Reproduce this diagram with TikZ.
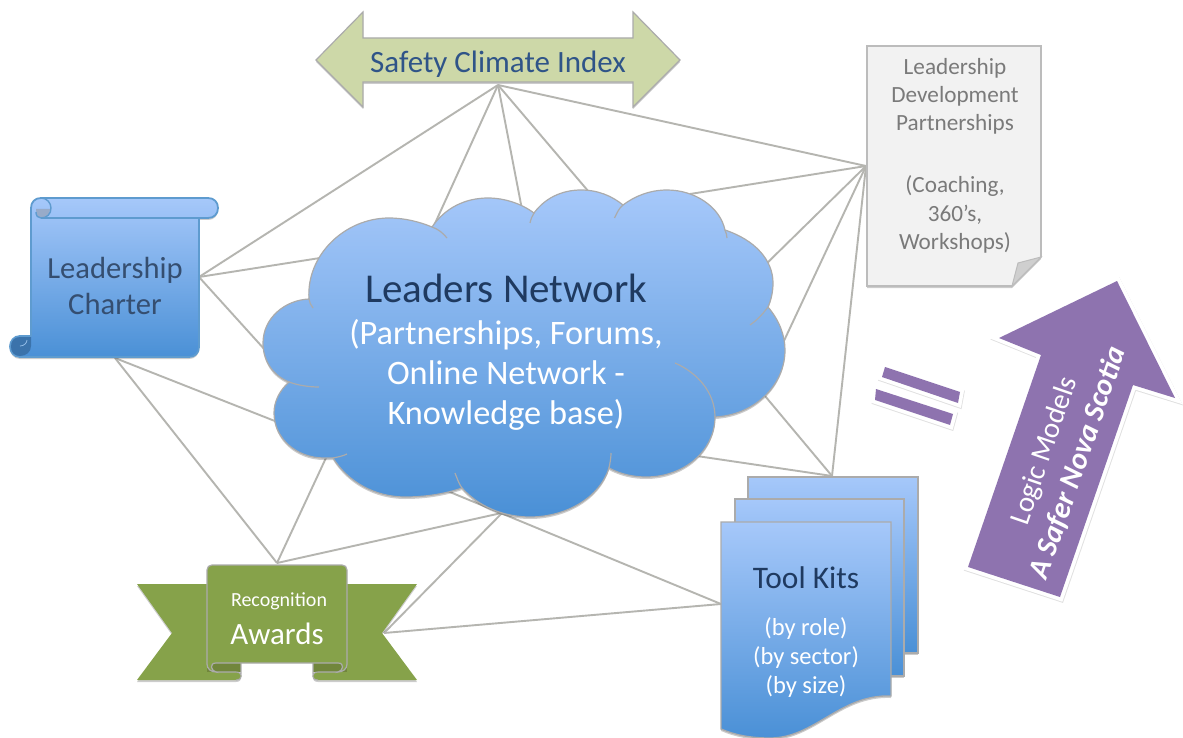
\documentclass[tikz,border=0pt]{standalone}
\usepackage{fontspec}
\setmainfont{Carlito}
\usetikzlibrary{shadows}
\definecolor{gradtop}{HTML}{A6C8FA}
\definecolor{gradbot}{HTML}{4A90D6}
\definecolor{linkgray}{HTML}{B5B5B0}
\definecolor{edgegray}{HTML}{ABABAB}
\definecolor{darktext}{HTML}{1F3A60}
\definecolor{bluetext}{HTML}{2F5488}
\definecolor{olive}{HTML}{86A24A}
\definecolor{olivedark}{HTML}{71863C}
\definecolor{sage}{HTML}{CDD8A8}
\definecolor{purplefill}{HTML}{8E73AF}
\definecolor{scrolledge}{HTML}{5E9BCF}
\tikzset{
  link/.style={draw=linkgray,line width=1.9pt},
  softshadow/.style={drop shadow={shadow xshift=0pt,shadow yshift=-2pt,opacity=.2,fill=black}},
  bluegrad/.style={top color=gradtop,bottom color=gradbot},
  sheet/.style={bluegrad,draw=edgegray,line width=1.3pt,softshadow},
  whitepurple/.style={fill=purplefill,line join=miter,
     preaction={draw=black,draw opacity=.12,line width=7.5pt,line join=miter,transform canvas={shift={(.6pt,-1.2pt)}}},
     preaction={draw=white,line width=7.5pt,line join=miter}},
  label/.style={inner sep=0pt,align=center},
}
\newcommand{\fs}[2]{\fontsize{#1}{#2}\selectfont}
\begin{document}
\begin{tikzpicture}[x=1pt,y=-1pt]
\useasboundingbox (0,0) rectangle (1183,738);
\fill[white] (0,0) rectangle (1183,738);
% connection points
\coordinate (sci) at (498,85);
\coordinate (ldp) at (866,166);
\coordinate (chartR) at (199,277);
\coordinate (chartB) at (115,358);
\coordinate (awT) at (277,563);
\coordinate (awR) at (384,633);
\coordinate (kitL) at (721,604);
\coordinate (kitT) at (832,476);
\coordinate (cA) at (432,230);
\coordinate (cB) at (525,225);
\coordinate (cC) at (600,205);
\coordinate (cD) at (690,194);
\coordinate (cE) at (760,270);
\coordinate (cF) at (775,360);
\coordinate (cG) at (690,455);
\coordinate (cH) at (760,390);
\coordinate (cI) at (320,258);
\coordinate (cJ) at (275,361);
\coordinate (cK) at (285,425);
\coordinate (cL) at (332,445);
\coordinate (cM) at (515,510);
\coordinate (cN) at (505,510);
\coordinate (cO) at (445,490);
% connectors
\draw[link] (sci) -- (chartR);
\draw[link] (sci) -- (cA);
\draw[link] (sci) -- (cB);
\draw[link] (sci) -- (cC);
\draw[link] (sci) -- (ldp);
\draw[link] (ldp) -- (cD);
\draw[link] (ldp) -- (cE);
\draw[link] (ldp) -- (cF);
\draw[link] (ldp) -- (kitT);
\draw[link] (kitT) -- (cG);
\draw[link] (kitT) -- (cH);
\draw[link] (chartR) -- (cI);
\draw[link] (chartR) -- (cJ);
\draw[link] (chartB) -- (cK);
\draw[link] (chartB) -- (awT);
\draw[link] (awT) -- (cL);
\draw[link] (awT) -- (cM);
\draw[link] (awR) -- (cN);
\draw[link] (awR) -- (kitL);
\draw[link] (kitL) -- (cO);
% safety climate index arrow
\draw[fill=sage,draw=edgegray,line width=1.2pt,line join=miter,softshadow]
  (316,60) -- (363,12) -- (363,38) -- (633,38) -- (633,12) -- (680,60) -- (633,107) -- (633,82) -- (363,82) -- (363,107) -- cycle;
\node[label,text=bluetext,font=\fs{31}{36}] (sciT) at (498,64) {Safety Climate Index};
% leadership development document
\draw[fill=black!5,draw=edgegray!80,line width=1.7pt,softshadow]
  (867,46) -- (1041,46) -- (1041,257) -- (1012,286) -- (867,286) -- cycle;
\draw[fill=black!19,draw=edgegray!80,line width=1pt] (1041,257) -- (1018,263) -- (1012,286) -- cycle;
\node[label,text=black!52,font=\fs{23.2}{28.2}] (ldpT) at (955,155.5) {Leadership\\Development\\Partnerships\\[6pt]\\(Coaching,\\360’s,\\Workshops)};
% scroll
\draw[bluegrad,draw=scrolledge,line width=1.8pt,softshadow,line join=round]
  (41,198) -- (208,198) .. controls (214,198) and (218,202) .. (218,208) .. controls (218,214) and (214,218) .. (208,218)
  -- (199,218) -- (199,347) .. controls (199,353) and (195,357) .. (189,357) -- (20,357)
  .. controls (14,357) and (10,352) .. (10,346.5) .. controls (10,341) and (14,336) .. (20,336) -- (31,336) -- (31,208)
  .. controls (31,202) and (35,198) .. (41,198) -- cycle;
\fill[gradtop!60!gray] (36,209) -- (50,209) .. controls (50,214) and (47,218) .. (42,218) .. controls (38,218) and (36,214) .. (36,209) -- cycle;
\draw[scrolledge,line width=1.4pt] (41,198) .. controls (47,198) and (51,203) .. (51,208) .. controls (51,214) and (47,218) .. (41,218) .. controls (38,218) and (36,216) .. (36,212);
\draw[scrolledge,line width=1.6pt] (41,218) -- (199,218);
\fill[gradbot!80!black] (20,337) -- (31,337) -- (31,346) .. controls (31,352) and (26,356) .. (20,356) .. controls (14,356) and (11,352) .. (11,346.5) .. controls (11,341) and (14,337) .. (20,337) -- cycle;
\draw[gradbot!60!white,line width=.8pt] (20,346) .. controls (24,346) and (27,343) .. (27,340);
\node[label,text=darktext!90!white,font=\fs{30.6}{36}] (charterT) at (115,286) {Leadership\\Charter};
% cloud
\draw[bluegrad,draw=edgegray,line width=1.2pt,softshadow]
  (289,382) .. controls (272,375) and (263,360) .. (263,343) .. controls (263,318) and (285,300) .. (309,299)
  .. controls (306,255) and (345,218) .. (389,218) .. controls (405,218) and (420,222) .. (432,227)
  .. controls (445,208) and (465,198) .. (488,198) .. controls (505,198) and (522,204) .. (534,213)
  .. controls (545,198) and (562,190) .. (581,190) .. controls (598,190) and (612,196) .. (623,205)
  .. controls (635,196) and (650,190) .. (667,190) .. controls (695,190) and (720,207) .. (725,230)
  .. controls (755,240) and (773,260) .. (773,283) .. controls (773,292) and (771,300) .. (768,307)
  .. controls (779,320) and (785,335) .. (785,350) .. controls (785,385) and (755,415) .. (715,417)
  .. controls (715,450) and (685,477) .. (646,477) .. controls (633,477) and (620,474) .. (609,468)
  .. controls (600,497) and (567,517) .. (530,517) .. controls (503,517) and (478,506) .. (462,488)
  .. controls (445,494) and (425,497) .. (405,497) .. controls (375,497) and (348,482) .. (333,458)
  .. controls (330,458) and (327,458) .. (324,458) .. controls (296,458) and (274,438) .. (274,413)
  .. controls (274,401) and (280,390) .. (289,382) -- cycle;
\draw[edgegray,line width=1.2pt]
  (309,299) .. controls (309,302) and (311,305) .. (313,308)
  (432,227) .. controls (438,229) and (443,233) .. (447,238)
  (534,213) .. controls (532,216) and (531,219) .. (530,223)
  (623,205) .. controls (619,208) and (617,213) .. (614.5,218)
  (725,230) .. controls (726,233) and (727,235) .. (727,238)
  (768,307) .. controls (762,315) and (757,320) .. (750,325)
  (675,363) .. controls (698,373) and (715,393) .. (715,417)
  (609,468) .. controls (610,463) and (611,458) .. (611,453)
  (462,488) .. controls (459,484) and (457,478) .. (455,473)
  (333,458) .. controls (338,457) and (343,456) .. (347,454)
  (289,382) .. controls (297,385) and (308,387) .. (319,387);
\node[label,text=darktext,font=\fs{41}{46}] (cloudT) at (506,288) {Leaders Network};
\node[label,text=white,font=\fs{34.3}{40}] (cloudS) at (506,375) {(Partnerships, Forums,\\Online Network -\\Knowledge base)};
% tool kits
\draw[sheet] (748,477) rectangle (918,653);
\draw[sheet] (735,499) rectangle (904,676);
\draw[sheet] (721,522) -- (891,522) -- (891,696) .. controls (840,694) and (815,738) .. (770,738) .. controls (750,738) and (735,735) .. (721,729) -- cycle;
\node[label,text=darktext,font=\fs{31.4}{36}] (kitT1) at (806,578) {Tool Kits};
\node[label,text=white,font=\fs{24.5}{29}] (kitT2) at (806,657.5) {(by role)\\(by sector)\\(by size)};
% ribbon
\draw[fill=olive,draw=none,softshadow] (137,584) -- (207,584) -- (207,672) -- (236,672)
   .. controls (243,672) and (243,680) .. (236,680) -- (137,680) -- (172,633) -- cycle;
\draw[fill=olive,draw=none,softshadow] (417,584) -- (347,584) -- (347,672) -- (318,672)
   .. controls (311,672) and (311,680) .. (318,680) -- (417,680) -- (382,633) -- cycle;
\fill[olivedark] (207,663) -- (241,663) -- (241,672) -- (207,672) -- cycle;
\fill[olivedark] (347,663) -- (313,663) -- (313,672) -- (347,672) -- cycle;
\draw[edgegray,line width=1.1pt] (216,672) -- (236,672) .. controls (243,672) and (243,680) .. (236,680) (241,663) -- (241,674.5);
\draw[edgegray,line width=1.1pt] (338,672) -- (318,672) .. controls (311,672) and (311,680) .. (318,680) (313,663) -- (313,674.5);
\draw[fill=olive,draw=edgegray,line width=1.2pt]
  (212,565) -- (342,565) .. controls (345,565) and (347,567) .. (347,570) -- (347,664)
  .. controls (347,669) and (343,672) .. (338,672) .. controls (343,671) and (345,663) .. (338,663)
  -- (216,663) .. controls (209,663) and (211,671) .. (216,672) .. controls (211,672) and (207,669) .. (207,664)
  -- (207,570) .. controls (207,567) and (209,565) .. (212,565) -- cycle;
\node[label,text=white,font=\fs{20}{24}] (recT) at (279,601) {Recognition};
\node[label,text=white,font=\fs{31}{36}] (awT2) at (277,634) {Awards};
% equals sign
\path[whitepurple] (885,367) -- (960,392) -- (958,403) -- (882,377) -- cycle;
\path[whitepurple] (876,389) -- (953,414) -- (950,425) -- (875,400) -- cycle;
% big arrow
\path[whitepurple] (1117,281) -- (1175,398) -- (1133,385) -- (1060,597) -- (968,567) -- (1041,355) -- (999,338) -- cycle;
\node[label,text=white,rotate=71,font=\fs{29}{34}] (logicT) at (1045,451) {Logic Models};
\node[label,text=white,rotate=71,font=\fs{30}{36}\bfseries\itshape] (saferT) at (1078,463) {A Safer Nova Scotia};
\end{tikzpicture}
\end{document}
